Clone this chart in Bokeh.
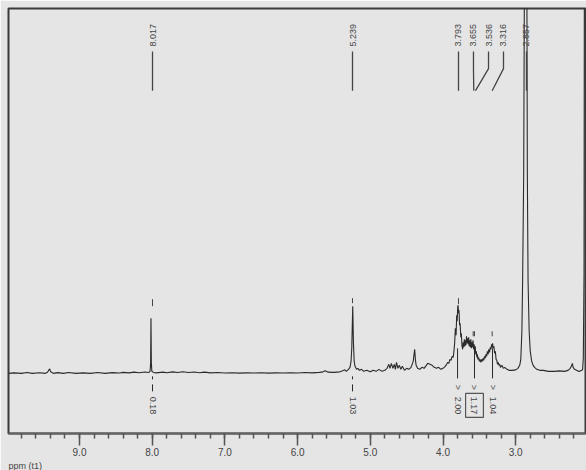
import math
import re
from bokeh.plotting import figure
from bokeh.models import Range1d, SingleIntervalTicker, PrintfTickFormatter, Title
from bokeh.core.properties import value
from bokeh.embed import file_html
from bokeh.resources import INLINE

# ---- spectrum trace, region by region (chemical shift in ppm, intensity in arbitrary units) ----
low_field_ppm = [9.977, 9.90, 9.80, 9.72, 9.65, 9.55, 9.47, 9.44, 9.425, 9.41, 9.40, 9.385, 9.36,
                 9.30, 9.22, 9.15, 9.05, 8.95, 8.85, 8.75, 8.65, 8.55, 8.45, 8.40, 8.32, 8.25,
                 8.18, 8.10, 8.05]
low_field_int = [0, 0.5, 0, 0.8, 0, 0.6, 0, 1, 3, 4.5, 2, 1, 0,
                 0.7, 0, 0.8, 0, 0.5, 0, 0.9, 0, 0.7, 0.3, 1, 0.5, 1.2,
                 0.6, 1.3, 0.8]

aromatic_ppm = [8.03, 8.022, 8.017, 8.012, 8.005, 7.98, 7.95, 7.85, 7.80, 7.72, 7.65, 7.58,
                7.50, 7.42, 7.35, 7.28, 7.20, 7.10, 7.00, 6.90, 6.80, 6.70, 6.60, 6.50, 6.40,
                6.30, 6.20, 6.10, 6.00, 5.90, 5.80, 5.70, 5.65, 5.62, 5.58, 5.50, 5.42, 5.38,
                5.35, 5.33]
aromatic_int = [2, 10, 55, 10, 2, 0.8, 0.5, 1.2, 0.6, 1.5, 0.8, 1.6,
                0.9, 1.4, 0.6, 1.2, 0.5, 0.9, 0.3, 0.6, 0.2, 0.5, 0.3, 0.6, 0.2,
                0.5, 0.3, 0.6, 0.4, 0.8, 0.5, 1, 1.5, 2.5, 1.2, 1, 1.5, 2.5,
                3.5, 2]

mid_ppm = [5.30, 5.28, 5.265, 5.255, 5.242, 5.232, 5.222, 5.21, 5.19, 5.17, 5.15, 5.12, 5.09,
           5.05, 5.00, 4.96, 4.92, 4.88, 4.84, 4.80, 4.77, 4.745, 4.73, 4.71, 4.69, 4.67,
           4.655, 4.64, 4.62, 4.60, 4.58, 4.56, 4.53, 4.50, 4.47, 4.44, 4.41, 4.40, 4.39,
           4.38, 4.37, 4.35, 4.32, 4.29, 4.26, 4.23, 4.21, 4.18, 4.15, 4.12, 4.09, 4.06,
           4.03, 4.00, 3.97]
mid_int = [4, 6, 12, 25, 67, 30, 12, 7, 4, 5, 3, 4, 2,
           3, 1.5, 3, 2, 4, 2, 3, 5, 9, 5, 10, 5, 9,
           4, 11, 5, 8, 4, 7, 3, 5, 4, 6, 12, 18, 24,
           14, 8, 5, 4, 6, 5, 8, 10, 9, 8, 6, 5, 6,
           4, 5, 7]

cluster_ppm = [3.95, 3.935, 3.92, 3.905, 3.89, 3.875, 3.86, 3.85, 3.84, 3.83, 3.82, 3.812,
               3.805, 3.798, 3.793, 3.786, 3.78, 3.772, 3.765, 3.755, 3.748, 3.74, 3.73, 3.722,
               3.715, 3.707, 3.70, 3.692, 3.685, 3.677, 3.67, 3.662, 3.655, 3.647, 3.64, 3.632,
               3.625, 3.617, 3.61, 3.602, 3.595, 3.587, 3.58, 3.572, 3.565, 3.557, 3.55, 3.542,
               3.535, 3.527, 3.52, 3.51, 3.50, 3.49, 3.48, 3.47, 3.46, 3.45, 3.44, 3.43, 3.42,
               3.41, 3.40, 3.39, 3.38, 3.37, 3.36, 3.35, 3.34, 3.332, 3.325, 3.318, 3.31, 3.30,
               3.29, 3.28, 3.27, 3.26, 3.25, 3.24, 3.23, 3.22, 3.21, 3.19]
cluster_int = [9, 11, 10, 14, 13, 17, 16, 22, 30, 45, 38, 58,
               52, 66, 68, 60, 63, 48, 50, 36, 40, 28, 24, 31,
               26, 34, 27, 33, 28, 37, 30, 35, 29, 36, 27, 33,
               26, 34, 25, 31, 26, 33, 24, 29, 22, 27, 19, 22,
               16, 19, 14, 16, 12, 14, 11, 14, 12, 15, 13, 17, 15,
               19, 17, 22, 19, 24, 21, 26, 24, 29, 26, 30, 25, 27,
               20, 22, 14, 13, 9, 11, 8, 9, 6, 8]

high_field_ppm = [3.17, 3.15, 3.12, 3.09, 3.05, 3.00, 2.97, 2.945, 2.93, 2.915, 2.905, 2.89,
                  2.875, 2.862, 2.85, 2.84, 2.83, 2.815, 2.80, 2.78, 2.76, 2.74, 2.71, 2.67,
                  2.62, 2.55, 2.47, 2.40, 2.33, 2.28, 2.25, 2.235, 2.22, 2.21, 2.19, 2.15,
                  2.12, 2.09, 2.08, 2.07, 2.06, 2.05, 2.026]
high_field_int = [5, 6, 4, 3, 3, 3.5, 5, 8, 14, 42, 92, 200,
                  500, 2000, 500, 200, 92, 42, 22, 12, 8, 6, 4, 3,
                  3, 2, 2, 2.5, 2, 3, 5, 7, 10, 6, 4, 2.5,
                  2, 3, 4, 15, 100, 800, 2000]

ppm = low_field_ppm + aromatic_ppm + mid_ppm + cluster_ppm + high_field_ppm
intensity = low_field_int + aromatic_int + mid_int + cluster_int + high_field_int
assert len(ppm) == len(intensity)

# ---- peak picking labels ----
peak_labels = ["8.017", "5.239", "3.793", "3.655", "3.536", "3.316", "2.857"]
peak_label_ppm = [7.996, 5.245, 3.787, 3.581, 3.374, 3.168, 2.852]
peak_line_end_ppm = [7.996, 5.245, 3.787, 3.577, 3.553, 3.324, 2.852]

# ---- integrals ----
integral_labels = ["0.18", "1.03", "2.00", "1.17", "1.04"]
integral_ppm = [7.996, 5.245, 3.80, 3.567, 3.319]
integral_boxed = [False, False, False, True, False]
integral_arrow = [False, False, True, True, True]

BG = "#e5e5e5"
INK = "#2a2a2a"
TXT = "#444444"
FONT = "Liberation Sans"

p = figure(width=586, height=470, x_range=Range1d(9.977, 2.040), y_range=Range1d(-60, 364),
           output_backend="svg", toolbar_location=None,
           min_border_left=8, min_border_right=1, min_border_top=8, min_border_bottom=0)
p.background_fill_color = BG
p.border_fill_color = BG
p.outline_line_color = "#3a3a3a"
p.outline_line_width = 2
p.grid.visible = False
p.yaxis.visible = False

ax = p.xaxis[0]
ax.ticker = SingleIntervalTicker(interval=1, num_minor_ticks=5)
ax.formatter = PrintfTickFormatter(format="%.1f")
ax.axis_line_color = "#666666"
ax.axis_line_width = 2
ax.major_tick_in = 0
ax.major_tick_out = 12
ax.minor_tick_in = 0
ax.minor_tick_out = 5
ax.major_tick_line_color = "#555555"
ax.minor_tick_line_color = "#555555"
ax.major_tick_line_width = 1.5
ax.minor_tick_line_width = 1.5
ax.major_label_text_font = FONT
ax.major_label_text_font_size = "10px"
ax.major_label_text_color = TXT
ax.major_label_standoff = 2

p.add_layout(Title(text="ppm (t1)", align="left", text_font_size="9px", text_color=TXT,
                   text_font=FONT, text_font_style="normal", standoff=0, offset=0), "below")

# spectrum
p.line(ppm, intensity, line_color=INK, line_width=1.1)

# peak labels and leader lines
y_text = 326
p.text(x=peak_label_ppm, y=[y_text] * len(peak_labels), text=peak_labels, angle=math.pi / 2,
       text_align="left", text_baseline="middle", text_font=value(FONT),
       text_font_size="9px", text_color=TXT)
xs, ys = [], []
for lx, ex in zip(peak_label_ppm, peak_line_end_ppm):
    xs.append([lx, lx, ex])
    ys.append([321, 304, 282])
p.multi_line(xs, ys, line_color="#444444", line_width=1.3)

# peak-pick markers above peaks
p.segment(x0=[7.996, 5.245, 3.787], y0=[67, 70, 69], x1=[7.996, 5.245, 3.787], y1=[74, 75, 75],
          line_color="#444444", line_width=1)
p.segment(x0=[3.585, 3.567, 3.324], y0=[37, 37, 37], x1=[3.585, 3.567, 3.324], y1=[42, 42, 42],
          line_color="#444444", line_width=1)

# integrals
for lab, x, boxed, arrow in zip(integral_labels, integral_ppm, integral_boxed, integral_arrow):
    if arrow:
        p.segment(x0=[x], y0=[25], x1=[x], y1=[-5], line_color=INK, line_width=1)
        p.text(x=[x], y=[-14], text=[">"], angle=-math.pi / 2, text_align="center",
               text_baseline="middle", text_font=value(FONT), text_font_size="9px",
               text_color=TXT)
    else:
        p.segment(x0=[x, x], y0=[-3, -11], x1=[x, x], y1=[-6, -18], line_color=INK, line_width=1)
    p.text(x=[x], y=[-32], text=[lab], angle=-math.pi / 2, text_align="center",
           text_baseline="middle", text_font=value(FONT), text_font_size="9px",
           text_color=TXT)
    if boxed:
        p.rect(x=[x], y=[-32], width=0.245, height=24, fill_alpha=0, line_color="#555555",
               line_width=1.2)

html = file_html(p, INLINE)
html = re.sub(r"<body>", '<body style="background-color:%s;">' % BG, html, count=1)
open("out.html", "w").write(html)
